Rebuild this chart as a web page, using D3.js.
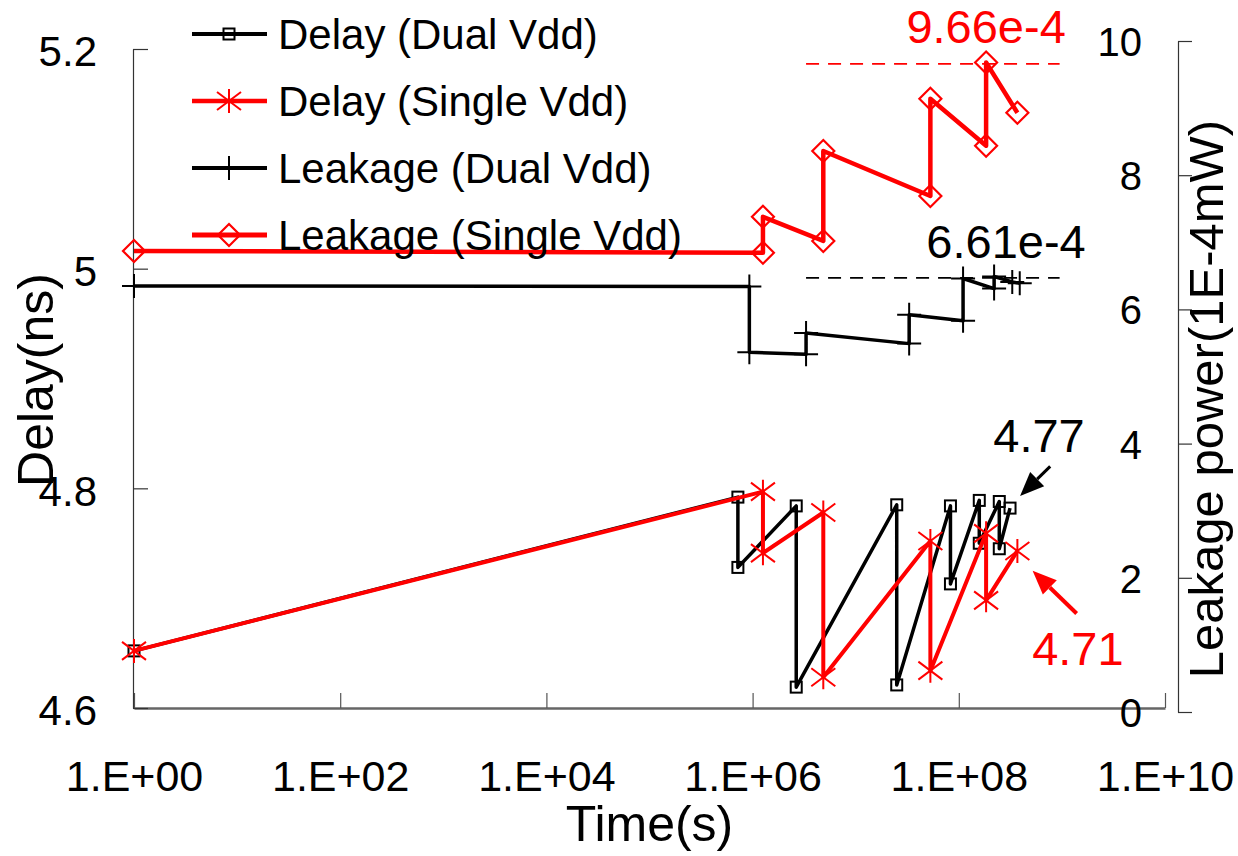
<!DOCTYPE html>
<html>
<head>
<meta charset="utf-8">
<script src="https://cdn.jsdelivr.net/npm/d3@7"></script>
<style>
  body { margin: 0; background: #fff; }
  text { font-family: "Liberation Sans", Arial, sans-serif; }
</style>
</head>
<body>
<script>
  // time axis ticks (log scale, every second decade)
  var timeTicks = [1, 1e2, 1e4, 1e6, 1e8, 1e10];
  var delayTicks = [4.6, 4.8, 5.0, 5.2];
  var leakTicks = [0, 2, 4, 6, 8, 10];

  // delay, dual vdd (ns)
  var delayDualTime = [1, 7.2e5, 7.2e5, 2.65e6, 2.65e6, 2.5e7, 2.5e7, 8.3e7, 8.3e7, 1.58e8, 1.58e8, 2.47e8, 2.47e8, 3.14e8];
  var delayDualValue = [4.652, 4.792, 4.728, 4.784, 4.619, 4.785, 4.621, 4.784, 4.713, 4.789, 4.750, 4.788, 4.745, 4.782];

  // delay, single vdd (ns)
  var delaySingleTime = [1, 1.26e6, 1.26e6, 4.85e6, 4.85e6, 5.3e7, 5.3e7, 1.84e8, 1.84e8, 3.7e8];
  var delaySingleValue = [4.652, 4.797, 4.741, 4.778, 4.628, 4.752, 4.634, 4.759, 4.698, 4.743];

  // leakage, dual vdd (1E-4 mW)
  var leakDualTime = [1, 9.3e5, 9.3e5, 3.3e6, 3.3e6, 3.3e7, 3.3e7, 1.1e8, 1.1e8, 2.2e8, 2.2e8, 3.3e8, 3.9e8];
  var leakDualValue = [6.35, 6.34, 5.36, 5.33, 5.65, 5.49, 5.92, 5.83, 6.46, 6.31, 6.49, 6.41, 6.39];

  // leakage, single vdd (1E-4 mW)
  var leakSingleTime = [1, 1.26e6, 1.26e6, 4.85e6, 4.85e6, 5.3e7, 5.3e7, 1.84e8, 1.84e8, 3.7e8];
  var leakSingleValue = [6.87, 6.845, 7.38, 7.02, 8.36, 7.69, 9.14, 8.44, 9.68, 8.93];

  // max leakage reference lines
  var refLevels = [9.66, 6.47];
  var refLabels = ["9.66e-4", "6.61e-4"];
  var refStart = 3.3e6, refEnd = 9.5e8;

  var legendLabels = ["Delay (Dual Vdd)", "Delay (Single Vdd)", "Leakage (Dual Vdd)", "Leakage (Single Vdd)"];

  var width = 1238, height = 856;
  var RED = "#ff0000", BLACK = "#000000";

  var svg = d3.select("body").append("svg")
    .attr("width", width)
    .attr("height", height);

  var x = d3.scaleLog().domain([1, 1e10]).range([134, 1165]);
  var yDelay = d3.scaleLinear().domain([4.6, 5.2]).range([708, 49]);
  var yLeak = d3.scaleLinear().domain([0, 10]).range([712, 41]);

  // ---- axes
  var xAxis = d3.axisBottom(x)
    .tickValues(timeTicks)
    .tickSize(-15)
    .tickSizeOuter(0)
    .tickPadding(52)
    .tickFormat(function (d) {
      var e = Math.round(Math.log10(d));
      return "1.E+" + (e < 10 ? "0" + e : e);
    });
  var gx = svg.append("g")
    .attr("transform", "translate(0," + yDelay(4.6) + ")")
    .call(xAxis);
  gx.select(".domain").attr("stroke", "#666").attr("stroke-width", 2.5);
  gx.selectAll(".tick line").attr("stroke", "#555").attr("stroke-width", 1.2);
  gx.selectAll(".tick text").style("font-size", "43px").attr("fill", BLACK);

  var yAxisL = d3.axisLeft(yDelay)
    .tickValues(delayTicks)
    .tickSize(-15)
    .tickSizeOuter(0)
    .tickPadding(36)
    .tickFormat(function (d) { return String(+d.toFixed(1)); });
  var gl = svg.append("g")
    .attr("transform", "translate(133,0)")
    .call(yAxisL);
  gl.select(".domain").attr("stroke", "#333").attr("stroke-width", 1.2);
  gl.selectAll(".tick line").attr("stroke", "#333").attr("stroke-width", 1.2);
  gl.selectAll(".tick text").style("font-size", "42px").attr("fill", BLACK).attr("dy", "0.4em");

  var yAxisR = d3.axisLeft(yLeak)
    .tickValues(leakTicks)
    .tickSize(-14)
    .tickSizeOuter(0)
    .tickPadding(36)
    .tickFormat(d3.format("d"));
  var gr = svg.append("g")
    .attr("transform", "translate(1178,0)")
    .call(yAxisR);
  gr.select(".domain").attr("stroke", "#333").attr("stroke-width", 1.2);
  gr.selectAll(".tick line").attr("stroke", "#333").attr("stroke-width", 1.2);
  gr.selectAll(".tick text").style("font-size", "40px").attr("fill", BLACK).attr("dy", "0.36em");

  // axis titles
  svg.append("text")
    .attr("x", (x.range()[0] + x.range()[1]) / 2)
    .attr("y", 841)
    .attr("text-anchor", "middle")
    .style("font-size", "50px")
    .text("Time(s)");

  svg.append("text")
    .attr("transform", "translate(53,380) rotate(-90)")
    .attr("text-anchor", "middle")
    .style("font-size", "50px")
    .text("Delay(ns)");

  svg.append("text")
    .attr("transform", "translate(1223,399) rotate(-90)")
    .attr("text-anchor", "middle")
    .style("font-size", "49px")
    .text("Leakage power(1E-4mW)");

  // ---- reference dashed lines
  refLevels.forEach(function (v, i) {
    svg.append("line")
      .attr("x1", x(refStart)).attr("x2", x(refEnd))
      .attr("y1", yLeak(v)).attr("y2", yLeak(v))
      .attr("stroke", i === 0 ? RED : BLACK)
      .attr("stroke-width", 1.8)
      .attr("stroke-dasharray", "13,9");
  });

  // ---- markers
  function drawMarker(g, kind, cx, cy, color) {
    if (kind === "square") {
      g.append("rect")
        .attr("x", cx - 5.5).attr("y", cy - 5.5)
        .attr("width", 11).attr("height", 11)
        .attr("fill", "none").attr("stroke", color).attr("stroke-width", 2);
    } else if (kind === "star") {
      var s = 12;
      g.append("path")
        .attr("d", "M" + cx + "," + (cy - s) + "V" + (cy + s) +
          "M" + (cx - s) + "," + (cy - s * 0.75) + "L" + (cx + s) + "," + (cy + s * 0.75) +
          "M" + (cx - s) + "," + (cy + s * 0.75) + "L" + (cx + s) + "," + (cy - s * 0.75))
        .attr("stroke", color).attr("stroke-width", 2).attr("fill", "none");
    } else if (kind === "plus") {
      var p = 12;
      g.append("path")
        .attr("d", "M" + cx + "," + (cy - p) + "V" + (cy + p) + "M" + (cx - p) + "," + cy + "H" + (cx + p))
        .attr("stroke", color).attr("stroke-width", 2).attr("fill", "none");
    } else if (kind === "diamond") {
      var r = 11;
      g.append("path")
        .attr("d", "M" + cx + "," + (cy - r) + "L" + (cx + r) + "," + cy + "L" + cx + "," + (cy + r) + "L" + (cx - r) + "," + cy + "Z")
        .attr("stroke", color).attr("stroke-width", 2.2).attr("fill", "none");
    }
  }

  var series = [
    { time: delayDualTime, value: delayDualValue, y: yDelay, color: BLACK, width: 3.5, marker: "square" },
    { time: delaySingleTime, value: delaySingleValue, y: yDelay, color: RED, width: 4, marker: "star" },
    { time: leakDualTime, value: leakDualValue, y: yLeak, color: BLACK, width: 3.5, marker: "plus" },
    { time: leakSingleTime, value: leakSingleValue, y: yLeak, color: RED, width: 4.5, marker: "diamond" }
  ];

  series.forEach(function (s) {
    var pts = s.time.map(function (t, i) { return [x(t), s.y(s.value[i])]; });
    var g = svg.append("g");
    g.append("path")
      .attr("d", d3.line()(pts))
      .attr("fill", "none")
      .attr("stroke", s.color)
      .attr("stroke-width", s.width)
      .attr("stroke-linejoin", "round");
    pts.forEach(function (p) { drawMarker(g, s.marker, p[0], p[1], s.color); });
  });

  // ---- annotations
  svg.append("text")
    .attr("x", x(1.84e8)).attr("y", yLeak(9.97))
    .attr("text-anchor", "middle").attr("fill", RED)
    .style("font-size", "47px").text(refLabels[0]);
  svg.append("text")
    .attr("x", x(2.87e8)).attr("y", yLeak(6.77))
    .attr("text-anchor", "middle").attr("fill", BLACK)
    .style("font-size", "47px").text(refLabels[1]);
  svg.append("text")
    .attr("x", x(6.0e8)).attr("y", yDelay(4.833))
    .attr("text-anchor", "middle").attr("fill", BLACK)
    .style("font-size", "47px").text("4.77");
  svg.append("text")
    .attr("x", x(1.43e9)).attr("y", yDelay(4.639))
    .attr("text-anchor", "middle").attr("fill", RED)
    .style("font-size", "47px").text("4.71");

  function arrow(t0, v0, t1, v1, color, w) {
    var x0 = x(t0), y0 = yDelay(v0), x1 = x(t1), y1 = yDelay(v1);
    var a = Math.atan2(y1 - y0, x1 - x0), len = 24, half = 10;
    var bx = x1 - len * Math.cos(a), by = y1 - len * Math.sin(a);
    svg.append("line")
      .attr("x1", x0).attr("y1", y0).attr("x2", bx).attr("y2", by)
      .attr("stroke", color).attr("stroke-width", w);
    svg.append("path")
      .attr("d", "M" + x1 + "," + y1 +
        "L" + (bx + half * Math.sin(a)) + "," + (by - half * Math.cos(a)) +
        "L" + (bx - half * Math.sin(a)) + "," + (by + half * Math.cos(a)) + "Z")
      .attr("fill", color);
  }
  arrow(7.7e8, 4.820, 3.93e8, 4.793, BLACK, 3);
  arrow(1.39e9, 4.686, 5.2e8, 4.725, RED, 4);

  // ---- legend
  var legend = svg.append("g").attr("transform", "translate(192,34)");
  legendLabels.forEach(function (label, i) {
    var s = series[i];
    var row = legend.append("g").attr("transform", "translate(0," + (i * 67) + ")");
    row.append("line")
      .attr("x1", 0).attr("x2", 75).attr("y1", 0).attr("y2", 0)
      .attr("stroke", s.color).attr("stroke-width", s.width + 0.5);
    drawMarker(row, s.marker, 37, 0, s.color);
    row.append("text")
      .attr("x", 86).attr("y", 0).attr("dy", "0.36em")
      .style("font-size", "42px")
      .text(label);
  });
</script>
</body>
</html>
